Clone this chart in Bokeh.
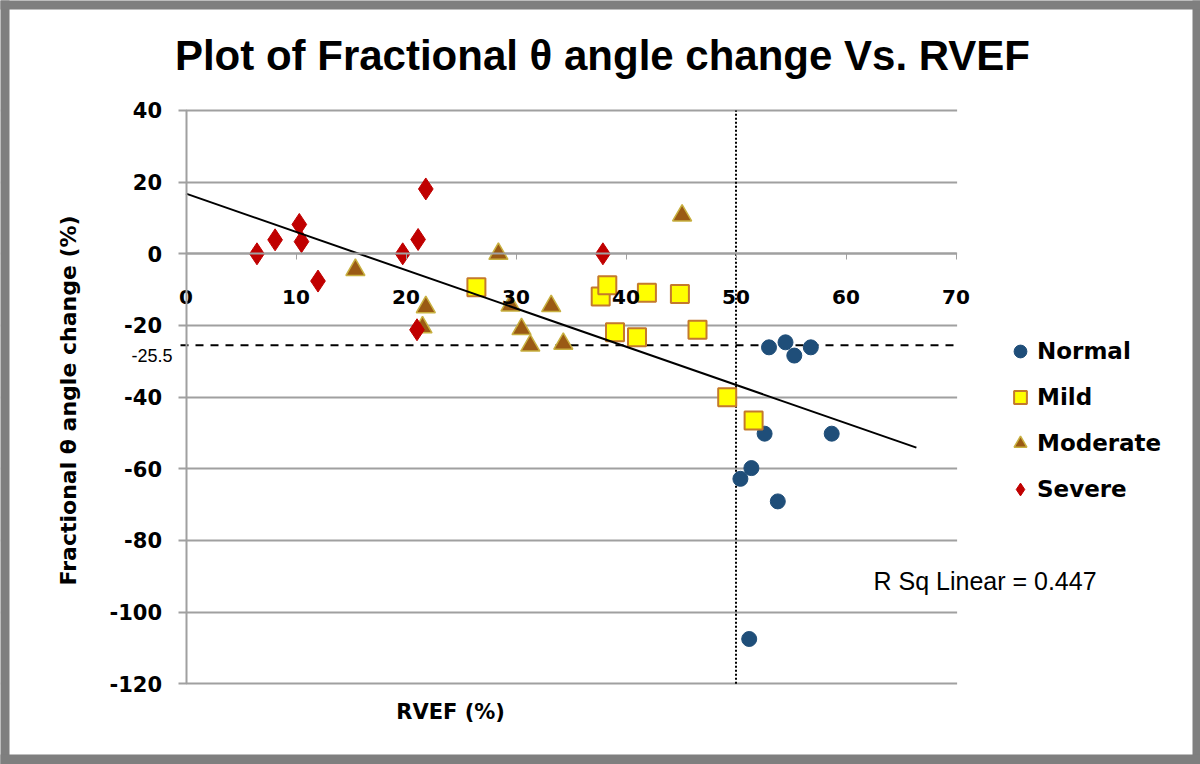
import math
from bokeh.plotting import figure
from bokeh.models import Range1d, Label, Legend, LegendItem, FixedTicker, BoxAnnotation
from bokeh.embed import file_html
from bokeh.resources import INLINE

# ---- data ----
normal_x = [53.0, 54.5, 55.3, 56.8, 52.6, 58.7, 51.4, 50.4, 53.8, 51.2]
normal_y = [-26.1, -24.7, -28.4, -26.1, -50.2, -50.2, -59.8, -62.8, -69.1, -107.5]
mild_x = [26.4, 37.7, 38.3, 41.9, 44.9, 39.0, 41.0, 46.5, 49.2, 51.6]
mild_y = [-9.3, -11.9, -8.8, -10.9, -11.2, -21.9, -23.3, -21.2, -40.0, -46.5]
moderate_x = [15.4, 21.8, 21.5, 28.4, 29.5, 30.5, 31.3, 33.2, 34.3, 45.1]
moderate_y = [-4.5, -14.9, -20.5, 0.0, -14.4, -21.0, -25.6, -14.6, -25.1, 10.7]
severe_x = [6.45, 8.1, 10.3, 10.5, 12.0, 19.7, 21.1, 21.8, 21.0, 37.9]
severe_y = [0.0, 3.9, 8.2, 3.4, -7.6, 0.0, 4.0, 18.1, -21.2, 0.0]
trend_x = [0.0, 66.4]
trend_y = [16.8, -54.1]
x_ticks = [0, 10, 20, 30, 40, 50, 60, 70]
y_ticks = [-120, -100, -80, -60, -40, -20, 0, 20, 40]
threshold_y = -25.5
threshold_x = 50
r_sq_text = "R Sq Linear = 0.447"
title_text = "Plot of Fractional θ angle change Vs. RVEF"
x_label = "RVEF (%)"
y_label = "Fractional θ angle change (%)"

X_MIN, X_MAX = 0, 70
Y_MIN, Y_MAX = -120, 40

BOLD_WIDE = "'DejaVu Sans', sans-serif"
BOLD_TITLE = "'Liberation Sans', Arial, sans-serif"
NARROW = "'Liberation Sans Narrow', 'Liberation Sans', sans-serif"

# whole canvas is the frame; data area 0..70 x -120..40 sits inside it
p = figure(width=1200, height=764, output_backend="svg", toolbar_location=None,
           x_range=Range1d(-16.864, 92.227), y_range=Range1d(-142.53, 70.70),
           min_border=0)
p.background_fill_color = "white"
p.border_fill_color = "white"
p.outline_line_color = None

# grid
p.xgrid.visible = False
p.ygrid.ticker = FixedTicker(ticks=y_ticks)
p.ygrid.grid_line_color = "#A0A0A0"
p.ygrid.grid_line_width = 2

# axes
xa = p.xaxis[0]
xa.ticker = FixedTicker(ticks=x_ticks)
xa.fixed_location = 0
xa.bounds = (X_MIN, X_MAX)
xa.axis_line_color = "#A0A0A0"
xa.axis_line_width = 2
xa.major_tick_line_color = "#A0A0A0"
xa.major_tick_in = 0
xa.major_tick_out = 6
xa.minor_tick_line_color = None
xa.major_label_standoff = 30
xa.major_label_text_font = BOLD_WIDE
xa.major_label_text_font_style = "bold"
xa.major_label_text_font_size = "20px"
xa.major_label_text_color = "black"

ya = p.yaxis[0]
ya.ticker = FixedTicker(ticks=y_ticks)
ya.fixed_location = 0
ya.bounds = (Y_MIN, Y_MAX)
ya.axis_line_color = "#A0A0A0"
ya.axis_line_width = 2
ya.major_tick_line_color = "#A0A0A0"
ya.major_tick_line_width = 2
ya.major_tick_in = 0
ya.major_tick_out = 8
ya.minor_tick_line_color = None
ya.major_label_standoff = 16
ya.major_label_overrides = {t: str(t) for t in y_ticks}
ya.major_label_text_font = BOLD_WIDE
ya.major_label_text_font_style = "bold"
ya.major_label_text_font_size = "21px"
ya.major_label_text_color = "black"

# white masks outside the data area (trim the grid lines)
for kw in (dict(left=-100, right=X_MIN, bottom=-300, top=300),
           dict(left=X_MAX + 0.1, right=200, bottom=-300, top=300),
           dict(left=-100, right=200, bottom=Y_MAX + 0.4, top=300),
           dict(left=-100, right=200, bottom=-300, top=Y_MIN - 0.4)):
    p.add_layout(BoxAnnotation(fill_color="white", fill_alpha=1.0, line_color=None,
                               level="underlay", **kw))

# reference lines
p.line([X_MIN - 0.5, X_MAX], [threshold_y, threshold_y], line_color="black",
       line_width=2, line_dash="8 7")
p.line([threshold_x, threshold_x], [Y_MIN, Y_MAX], line_color="black",
       line_width=2, line_dash="2 2")

# series
r_normal = p.scatter(normal_x, normal_y, marker="circle", size=15,
                     fill_color="#1F4E79", line_color="#1F4E79")
r_mild = p.scatter(mild_x, mild_y, marker="square", size=18,
                   fill_color="#FFFF00", line_color="#C47A2C", line_width=2)
r_mod = p.scatter(moderate_x, moderate_y, marker="triangle", size=19,
                  fill_color="#9A5A14", line_color="#C8B040", line_width=1.5)
r_sev = p.scatter(severe_x, severe_y, marker="diamond", size=22,
                  fill_color="#C00000", line_color="#C00000")

p.line(trend_x, trend_y, line_color="black", line_width=2)

# legend
legend = Legend(items=[
    LegendItem(label="Normal", renderers=[r_normal]),
    LegendItem(label="Mild", renderers=[r_mild]),
    LegendItem(label="Moderate", renderers=[r_mod]),
    LegendItem(label="Severe", renderers=[r_sev]),
], location=(1004, 259))
legend.label_text_font = BOLD_WIDE
legend.label_text_font_style = "bold"
legend.label_text_font_size = "23px"
legend.label_text_color = "black"
legend.glyph_width = 32
legend.glyph_height = 32
legend.label_standoff = 1
legend.spacing = 14
legend.padding = 0
legend.margin = 0
legend.border_line_color = None
legend.background_fill_alpha = 0
p.add_layout(legend, "center")

# texts
p.add_layout(Label(x=37.86, y=55.35, text=title_text,
                   text_align="center", text_baseline="middle",
                   text_font=BOLD_TITLE, text_font_style="bold", text_font_size="42px",
                   text_color="black"))
p.add_layout(Label(x=-10.68, y=-40.9, text=y_label, angle=math.pi / 2,
                   text_align="center", text_baseline="middle",
                   text_font=BOLD_WIDE, text_font_style="bold", text_font_size="22px",
                   text_color="black"))
p.add_layout(Label(x=24.05, y=-128.0, text=x_label,
                   text_align="center", text_baseline="middle",
                   text_font=BOLD_WIDE, text_font_style="bold", text_font_size="21px",
                   text_color="black"))
p.add_layout(Label(x=-1.23, y=threshold_y - 2.9, text=str(threshold_y),
                   text_align="right", text_baseline="middle",
                   text_font=NARROW, text_font_size="18px", text_color="black"))
p.add_layout(Label(x=62.5, y=-91.2, text=r_sq_text,
                   text_align="left", text_baseline="middle",
                   text_font=NARROW, text_font_size="25px", text_color="black"))

# grey picture frame
for kw in (dict(left=-100, right=-16.045, bottom=-300, top=300),
           dict(left=91.5, right=200, bottom=-300, top=300),
           dict(left=-100, right=200, bottom=68.19, top=300),
           dict(left=-100, right=200, bottom=-300, top=-139.74)):
    p.add_layout(BoxAnnotation(fill_color="#7F7F7F", fill_alpha=1.0, line_color=None,
                               level="overlay", **kw))

open("out.html", "w").write(file_html(p, INLINE))
